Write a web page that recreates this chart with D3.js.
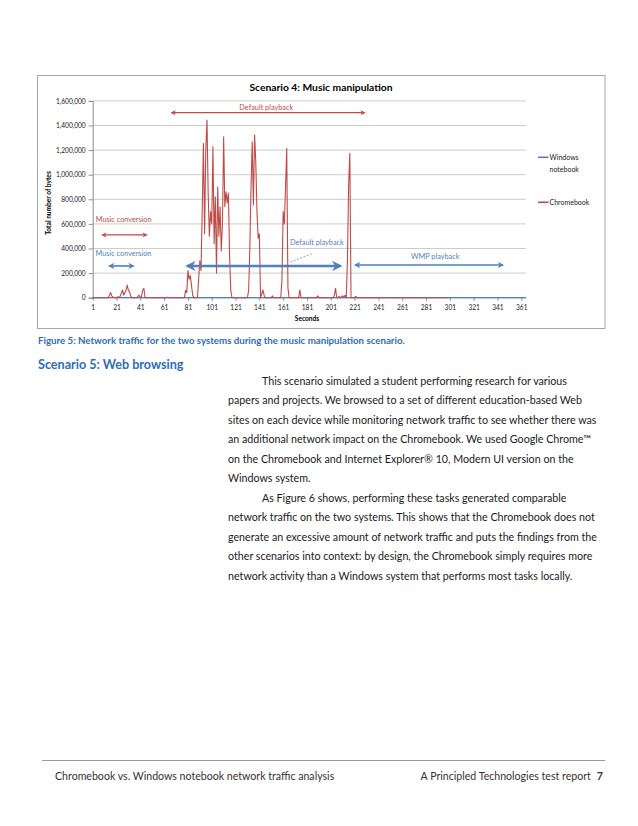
<!DOCTYPE html>
<html>
<head>
<meta charset="utf-8">
<script src="https://cdn.jsdelivr.net/npm/d3@7"></script>
<style>
  body { margin: 0; background: #fff; }
  svg { display: block; font-family: Lato, "Open Sans", sans-serif; }
</style>
</head>
<body>
<script>
// datos
const secondsTicks = [1, 21, 41, 61, 81, 101, 121, 141, 161, 181, 201, 221, 241, 261, 281, 301, 321, 341, 361];
const bytesTicks = [0, 200000, 400000, 600000, 800000, 1000000, 1200000, 1400000, 1600000];
const seriesNames = ["Windows notebook", "Chromebook"];

// Windows notebook: plano en cero durante toda la prueba
const windowsNotebook = [[1, 0], [365, 0]];

// Chromebook: [segundo, bytes]
const chromebook = [
  [1, 0], [14, 0], [15, 20000], [16, 42000], [17, 15000], [18, 5000], [19, 0], [21, 0], [22, 8000], [23, 0],
  [24, 10000], [25, 35000], [26, 63000], [27, 20000], [28, 40000], [29, 60000], [30, 103000], [31, 60000],
  [32, 45000], [33, 10000], [34, 0], [38, 0], [39, 10000], [40, 20000], [41, 3000], [42, 10000], [43, 60000],
  [44, 76000], [45, 0], [63, 0], [64, 4000], [65, 0],
  [78, 0], [79, 60000], [80, 40000], [81, 220000], [82, 150000], [83, 180000], [84, 100000], [85, 20000], [86, 0],
  [89, 0], [90, 150000], [91, 300000], [92, 220000], [93, 700000], [94, 1255000], [95, 520000], [96, 1200000],
  [97, 1445000], [98, 850000], [99, 500000], [100, 700000], [101, 600000], [102, 1228000], [103, 440000],
  [104, 820000], [105, 200000], [106, 900000], [107, 500000], [108, 740000], [109, 380000], [110, 600000],
  [111, 1309000], [112, 740000], [113, 860000], [114, 770000], [115, 850000], [116, 340000], [117, 60000], [118, 0],
  [131, 0], [132, 60000], [133, 400000], [134, 900000], [135, 1268000], [136, 754000], [137, 1323000],
  [138, 1100000], [139, 700000], [140, 483000], [141, 520000], [142, 0], [143, 30000], [144, 63000], [145, 20000], [146, 0],
  [151, 0], [152, 15000], [153, 0],
  [159, 0], [160, 150000], [161, 700000], [162, 600000], [163, 900000], [164, 1215000], [165, 80000], [166, 0],
  [174, 0], [175, 63000], [176, 0], [189, 0], [190, 15000], [191, 0],
  [203, 0], [204, 20000], [205, 76000], [206, 0], [207, 0], [208, 10000], [209, 0], [211, 15000], [212, 5000],
  [213, 20000], [214, 0], [215, 300000], [216, 916000], [217, 1174000], [218, 0],
  [221, 0], [222, 12000], [223, 0], [300, 0]
];

// anotaciones en unidades de datos: [texto, segundo, bytes]
const annRed = [["Default playback", 146.8, 1545000], ["Music conversion", 3.5, 632000]];
const annBlue = [["Music conversion", 3.4, 361000], ["Default playback", 166.7, 450000], ["WMP playback", 288.7, 339000]];
const arrowsRed = [[67.3, 229.4, 1504000], [9.1, 46.3, 510000]];
const arrowsBlue = [[15, 35.2, 258000, 1.6], [80.5, 209, 258000, 2.6], [221.6, 345.6, 266000, 1.6]];

const pageText = [
  "This scenario simulated a student performing research for various",
  "papers and projects. We browsed to a set of different education-based Web",
  "sites on each device while monitoring network traffic to see whether there was",
  "an additional network impact on the Chromebook. We used Google Chrome\u2122",
  "on the Chromebook and Internet Explorer\u00ae 10, Modern UI version on the",
  "Windows system.",
  "As Figure 6 shows, performing these tasks generated comparable",
  "network traffic on the two systems. This shows that the Chromebook does not",
  "generate an excessive amount of network traffic and puts the findings from the",
  "other scenarios into context: by design, the Chromebook simply requires more",
  "network activity than a Windows system that performs most tasks locally."
];

const azul = "#4f81bd", rojo = "#be4b48";

var svg = d3.select("body").append("svg")
    .attr("width", 638)
    .attr("height", 826);

// marco del grafico
svg.append("rect")
    .attr("x", 37.5).attr("y", 75.5)
    .attr("width", 567.5).attr("height", 253)
    .attr("fill", "#fff")
    .attr("stroke", "#a6a6a6");

svg.append("text")
    .attr("x", 321).attr("y", 90.5)
    .attr("text-anchor", "middle")
    .attr("font-weight", "bold")
    .attr("font-size", 10.3)
    .text("Scenario 4: Music manipulation");

var x = d3.scaleLinear().domain([1, 365]).range([92.7, 526]);
var y = d3.scaleLinear().domain([0, 1600000]).range([297.7, 100.9]);

// rejilla
svg.append("g")
    .selectAll("line")
    .data(bytesTicks.slice(1))
    .join("line")
        .attr("x1", x(1)).attr("x2", x(365))
        .attr("y1", d => y(d)).attr("y2", d => y(d))
        .attr("stroke", "#bfbfbf")
        .attr("stroke-width", 0.8);

// eje Y
var ejeY = svg.append("g")
    .attr("transform", "translate(" + x(1) + ",0)")
    .call(d3.axisLeft(y).tickValues(bytesTicks).tickSize(4).tickPadding(3).tickFormat(d3.format(",")));
ejeY.selectAll("text").attr("font-size", 6.6).attr("fill", "#222").attr("font-family", "Lato, sans-serif");
ejeY.selectAll("line, path").attr("stroke", "#8c8c8c");

// eje X
var ejeX = svg.append("g")
    .attr("transform", "translate(0," + y(0) + ")")
    .call(d3.axisBottom(x).tickValues(secondsTicks).tickSize(3).tickPadding(5).tickFormat(d3.format("d")));
ejeX.selectAll("text").attr("font-size", 6.6).attr("fill", "#222").attr("font-family", "Lato, sans-serif");
ejeX.selectAll("line, path").attr("stroke", "#8c8c8c");
ejeX.select(".domain").attr("d", "M" + x(1) + ",0H" + x(365));

svg.append("text")
    .attr("x", 307).attr("y", 320.5)
    .attr("text-anchor", "middle")
    .attr("font-size", 6.6).attr("font-weight", "bold")
    .text("Seconds");

svg.append("text")
    .attr("transform", "translate(50.5,203) rotate(-90)")
    .attr("text-anchor", "middle")
    .attr("font-size", 6.6).attr("font-weight", "bold")
    .text("Total number of bytes");

// lineas
const linea = d3.line()
    .x(d => x(d[0]))
    .y(d => y(d[1]));

svg.append("path")
    .datum(windowsNotebook)
    .attr("fill", "none")
    .attr("stroke", azul)
    .attr("stroke-width", 1.3)
    .attr("d", linea);

svg.append("path")
    .datum(chromebook)
    .attr("fill", "none")
    .attr("stroke", rojo)
    .attr("stroke-width", 1.1)
    .attr("stroke-linejoin", "round")
    .attr("d", linea);

// leyenda
var leyenda = svg.append("g").attr("font-size", 7).attr("fill", "#222");
[[seriesNames[0], azul, 157.3], [seriesNames[1], rojo, 202.3]].forEach(function (l, i) {
    leyenda.append("line")
        .attr("x1", 538).attr("x2", 548.5)
        .attr("y1", l[2]).attr("y2", l[2])
        .attr("stroke", l[1]).attr("stroke-width", 1.6);
    var palabras = i == 0 ? ["Windows", "notebook"] : [l[0]];
    palabras.forEach(function (p, j) {
        leyenda.append("text")
            .attr("x", 549.5).attr("y", l[2] + 2.5 + j * 12)
            .text(p);
    });
});

// flechas
var defs = svg.append("defs");
function marcador(id, color) {
    defs.append("marker")
        .attr("id", id)
        .attr("viewBox", "0 0 10 10")
        .attr("refX", 8).attr("refY", 5)
        .attr("markerWidth", 4).attr("markerHeight", 4)
        .attr("orient", "auto-start-reverse")
        .append("path")
            .attr("d", "M0,0L10,5L0,10L3,5Z")
            .attr("fill", color);
}
marcador("puntaRoja", rojo);
marcador("puntaAzul", azul);

arrowsRed.forEach(function (a) {
    svg.append("line")
        .attr("x1", x(a[0])).attr("x2", x(a[1]))
        .attr("y1", y(a[2])).attr("y2", y(a[2]))
        .attr("stroke", rojo).attr("stroke-width", 1.3)
        .attr("marker-start", "url(#puntaRoja)")
        .attr("marker-end", "url(#puntaRoja)");
});
arrowsBlue.forEach(function (a) {
    svg.append("line")
        .attr("x1", x(a[0])).attr("x2", x(a[1]))
        .attr("y1", y(a[2])).attr("y2", y(a[2]))
        .attr("stroke", azul).attr("stroke-width", a[3])
        .attr("marker-start", "url(#puntaAzul)")
        .attr("marker-end", "url(#puntaAzul)");
});

// linea discontinua hacia "Default playback"
svg.append("line")
    .attr("x1", x(167)).attr("y1", y(290000))
    .attr("x2", x(185.5)).attr("y2", y(359000))
    .attr("stroke", azul).attr("stroke-width", 0.7)
    .attr("stroke-dasharray", "2,1.5");

annRed.forEach(function (t, i) {
    svg.append("text")
        .attr("x", x(t[1])).attr("y", y(t[2]) + 2.5)
        .attr("text-anchor", i == 0 ? "middle" : "start")
        .attr("font-size", 7.3).attr("fill", rojo)
        .text(t[0]);
});
annBlue.forEach(function (t, i) {
    svg.append("text")
        .attr("x", x(t[1])).attr("y", y(t[2]) + 2.5)
        .attr("text-anchor", i == 2 ? "middle" : "start")
        .attr("font-size", 7.3).attr("fill", azul)
        .text(t[0]);
});

// texto de la pagina
svg.append("text")
    .attr("x", 38).attr("y", 344)
    .attr("font-size", 9.7).attr("font-weight", "bold").attr("fill", "#2e6db4")
    .text("Figure 5: Network traffic for the two systems during the music manipulation scenario.");

svg.append("text")
    .attr("x", 38).attr("y", 368.5)
    .attr("font-size", 12.6).attr("font-weight", "bold").attr("fill", "#2e6db4")
    .text("Scenario 5: Web browsing");

svg.append("g")
    .selectAll("text")
    .data(pageText)
    .join("text")
        .attr("x", (d, i) => (i == 0 || i == 6) ? 262 : 228)
        .attr("y", (d, i) => 384.5 + i * 19.55)
        .attr("font-size", 10.7)
        .attr("fill", "#1a1a1a")
        .text(d => d);

// pie de pagina
svg.append("line")
    .attr("x1", 42).attr("x2", 605)
    .attr("y1", 760.5).attr("y2", 760.5)
    .attr("stroke", "#9a9a9a");

svg.append("text")
    .attr("x", 55).attr("y", 779.5)
    .attr("font-size", 10.6).attr("fill", "#333")
    .text("Chromebook vs. Windows notebook network traffic analysis");

var pie = svg.append("text")
    .attr("x", 603).attr("y", 779.5)
    .attr("text-anchor", "end")
    .attr("font-size", 10.6).attr("fill", "#333");
pie.append("tspan").text("A Principled Technologies test report");
pie.append("tspan").attr("dx", 6).attr("font-weight", "bold").text("7");
</script>
</body>
</html>
